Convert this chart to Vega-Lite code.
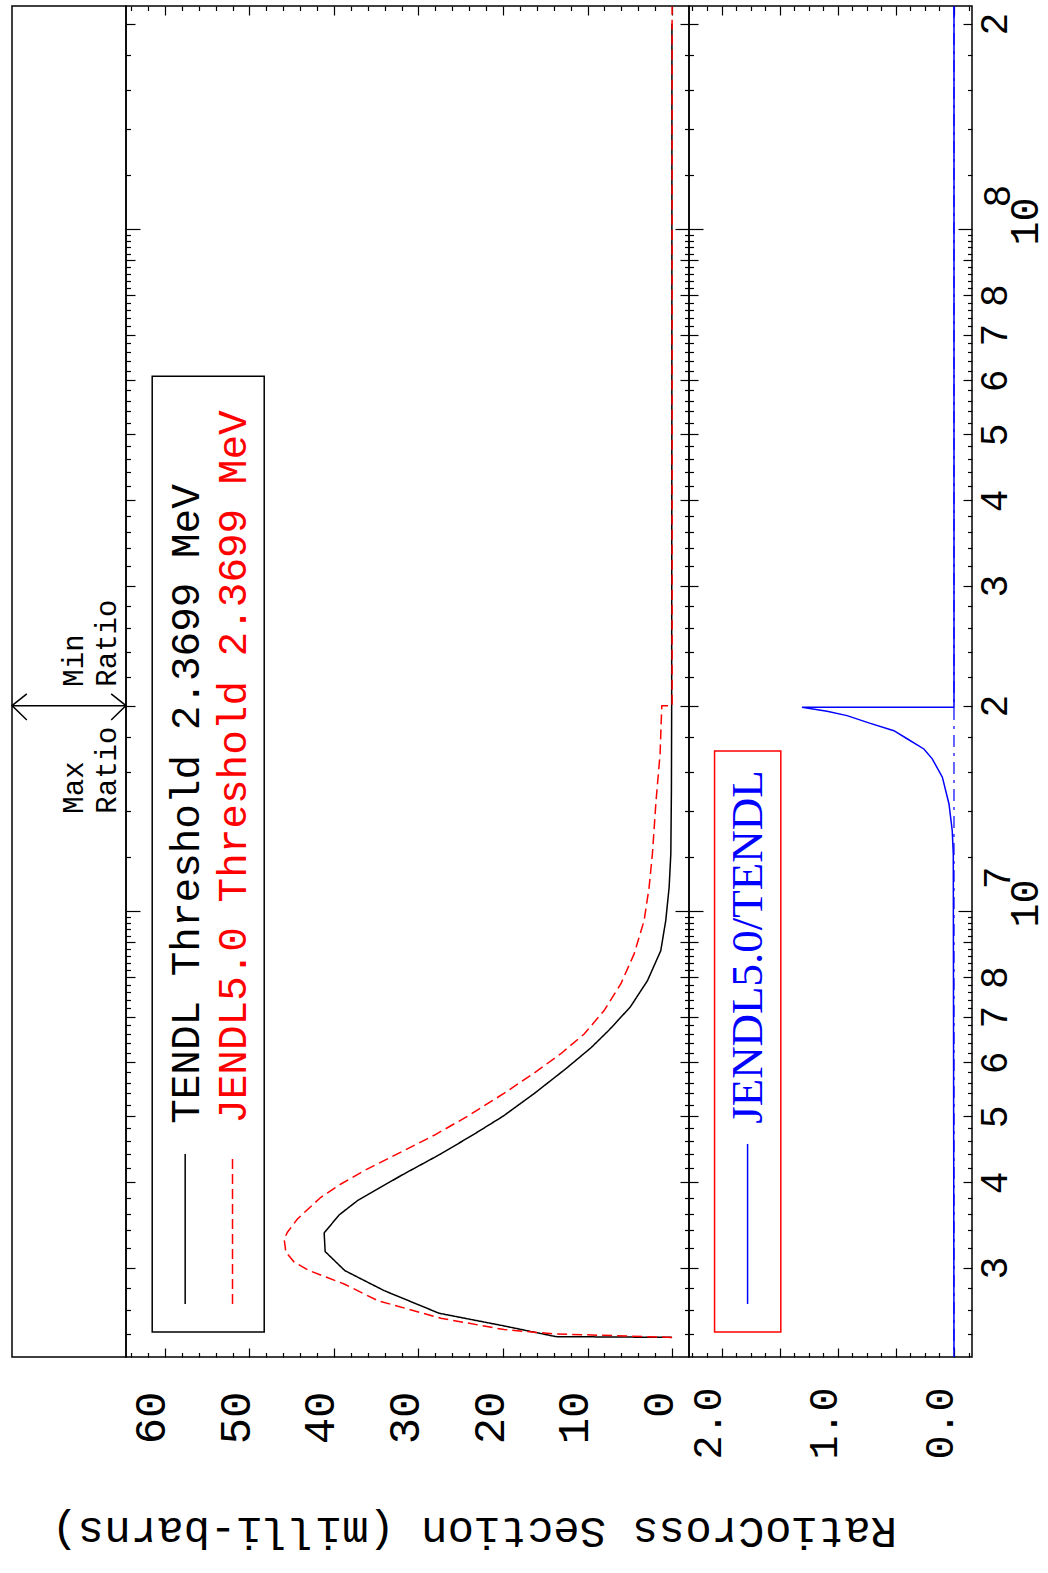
{
  "$schema": "https://vega.github.io/schema/vega-lite/v6.json",
  "background": "white",
  "padding": {"left": 8, "top": 2, "right": 0, "bottom": 0},
  "bounds": "flush",
  "spacing": 0,
  "config": {
    "view": {"stroke": "black", "strokeWidth": 1.5},
    "axis": {"grid": false, "domain": false, "labelFont": "Liberation Mono", "titleFont": "Liberation Mono", "labelColor": "black", "titleColor": "black", "tickColor": "black", "tickWidth": 1.2, "labelOverlap": false, "labelBound": false, "labelFlush": false, "titleFontWeight": "normal"}
  },
  "datasets": {
    "xs": [
      {"s": "TENDL", "i": 1, "E": 2369900, "v": 0},
      {"s": "TENDL", "i": 2, "E": 2376000, "v": 13.75},
      {"s": "TENDL", "i": 3, "E": 2466000, "v": 20.07},
      {"s": "TENDL", "i": 4, "E": 2571000, "v": 27.56},
      {"s": "TENDL", "i": 5, "E": 2775000, "v": 34.06},
      {"s": "TENDL", "i": 6, "E": 2969000, "v": 38.71},
      {"s": "TENDL", "i": 7, "E": 3166000, "v": 41.04},
      {"s": "TENDL", "i": 8, "E": 3372000, "v": 41.16},
      {"s": "TENDL", "i": 9, "E": 3584000, "v": 39.38},
      {"s": "TENDL", "i": 10, "E": 3760000, "v": 37.22},
      {"s": "TENDL", "i": 11, "E": 4091000, "v": 32.09},
      {"s": "TENDL", "i": 12, "E": 4403000, "v": 27.36},
      {"s": "TENDL", "i": 13, "E": 4700000, "v": 23.5},
      {"s": "TENDL", "i": 14, "E": 5000000, "v": 20.0},
      {"s": "TENDL", "i": 15, "E": 5400000, "v": 16.3},
      {"s": "TENDL", "i": 16, "E": 5866000, "v": 12.6},
      {"s": "TENDL", "i": 17, "E": 6300000, "v": 9.6},
      {"s": "TENDL", "i": 18, "E": 6700000, "v": 7.4},
      {"s": "TENDL", "i": 19, "E": 7230000, "v": 4.95},
      {"s": "TENDL", "i": 20, "E": 7900000, "v": 2.92},
      {"s": "TENDL", "i": 21, "E": 8745000, "v": 1.34},
      {"s": "TENDL", "i": 22, "E": 9680000, "v": 0.75},
      {"s": "TENDL", "i": 23, "E": 10830000, "v": 0.35},
      {"s": "TENDL", "i": 24, "E": 12120000, "v": 0.15},
      {"s": "TENDL", "i": 25, "E": 15000000, "v": 0.08},
      {"s": "TENDL", "i": 26, "E": 20000000, "v": 0.05},
      {"s": "TENDL", "i": 27, "E": 50000000, "v": 0.03},
      {"s": "TENDL", "i": 28, "E": 200000000, "v": 0.02},
      {"s": "JENDL5.0", "i": 1, "E": 2369900, "v": 0},
      {"s": "JENDL5.0", "i": 2, "E": 2398000, "v": 13.96},
      {"s": "JENDL5.0", "i": 3, "E": 2433000, "v": 19.87},
      {"s": "JENDL5.0", "i": 4, "E": 2528000, "v": 27.36},
      {"s": "JENDL5.0", "i": 5, "E": 2684000, "v": 34.85},
      {"s": "JENDL5.0", "i": 6, "E": 2838000, "v": 38.79},
      {"s": "JENDL5.0", "i": 7, "E": 2969000, "v": 42.93},
      {"s": "JENDL5.0", "i": 8, "E": 3056000, "v": 44.71},
      {"s": "JENDL5.0", "i": 9, "E": 3160000, "v": 45.69},
      {"s": "JENDL5.0", "i": 10, "E": 3305000, "v": 45.89},
      {"s": "JENDL5.0", "i": 11, "E": 3380000, "v": 45.5},
      {"s": "JENDL5.0", "i": 12, "E": 3535000, "v": 44.32},
      {"s": "JENDL5.0", "i": 13, "E": 3803000, "v": 41.55},
      {"s": "JENDL5.0", "i": 14, "E": 3978000, "v": 39.18},
      {"s": "JENDL5.0", "i": 15, "E": 4160000, "v": 36.43},
      {"s": "JENDL5.0", "i": 16, "E": 4403000, "v": 32.49},
      {"s": "JENDL5.0", "i": 17, "E": 4700000, "v": 28.0},
      {"s": "JENDL5.0", "i": 18, "E": 5000000, "v": 24.2},
      {"s": "JENDL5.0", "i": 19, "E": 5400000, "v": 19.9},
      {"s": "JENDL5.0", "i": 20, "E": 5800000, "v": 16.2},
      {"s": "JENDL5.0", "i": 21, "E": 6170000, "v": 13.2},
      {"s": "JENDL5.0", "i": 22, "E": 6600000, "v": 10.4},
      {"s": "JENDL5.0", "i": 23, "E": 7145000, "v": 8.04},
      {"s": "JENDL5.0", "i": 24, "E": 7815000, "v": 6.07},
      {"s": "JENDL5.0", "i": 25, "E": 8650000, "v": 4.49},
      {"s": "JENDL5.0", "i": 26, "E": 9680000, "v": 3.31},
      {"s": "JENDL5.0", "i": 27, "E": 10830000, "v": 2.72},
      {"s": "JENDL5.0", "i": 28, "E": 12120000, "v": 2.33},
      {"s": "JENDL5.0", "i": 29, "E": 14500000, "v": 1.9},
      {"s": "JENDL5.0", "i": 30, "E": 17000000, "v": 1.42},
      {"s": "JENDL5.0", "i": 31, "E": 20000000, "v": 1.22},
      {"s": "JENDL5.0", "i": 32, "E": 20000000, "v": 0},
      {"s": "JENDL5.0", "i": 33, "E": 212000000, "v": 0}
    ],
    "ratio": [
      {"i": 1, "E": 2220000, "r": 0},
      {"i": 2, "E": 12120000, "r": 0.006},
      {"i": 3, "E": 13110000, "r": 0.015},
      {"i": 4, "E": 14350000, "r": 0.043},
      {"i": 5, "E": 15710000, "r": 0.1},
      {"i": 6, "E": 16710000, "r": 0.187},
      {"i": 7, "E": 17280000, "r": 0.259},
      {"i": 8, "E": 17870000, "r": 0.4},
      {"i": 9, "E": 18380000, "r": 0.517},
      {"i": 10, "E": 18870000, "r": 0.733},
      {"i": 11, "E": 19340000, "r": 0.92},
      {"i": 12, "E": 19630000, "r": 1.092},
      {"i": 13, "E": 19900000, "r": 1.308},
      {"i": 14, "E": 19900000, "r": 0},
      {"i": 15, "E": 212000000, "r": 0}
    ],
    "arrow": [
      {"seg": "shaft", "i": 1, "p": 0, "E": 20000000},
      {"seg": "shaft", "i": 2, "p": 1, "E": 20000000},
      {"seg": "left", "i": 1, "p": 0.13, "E": 20810000},
      {"seg": "left", "i": 2, "p": 0, "E": 20000000},
      {"seg": "left", "i": 3, "p": 0.13, "E": 19060000},
      {"seg": "right", "i": 1, "p": 0.87, "E": 20810000},
      {"seg": "right", "i": 2, "p": 1, "E": 20000000},
      {"seg": "right", "i": 3, "p": 0.87, "E": 19060000}
    ],
    "notes": [
      {"t": "Max|Ratio", "p": 0.42, "E": 20000000, "side": "below"},
      {"t": "Min|Ratio", "p": 0.42, "E": 20000000, "side": "above"}
    ],
    "legB": [
      {"x1": 61.5, "x2": 48.25, "E1": 2413000, "E2": 60800000}
    ],
    "legBlines": [
      {"s": "TENDL", "i": 1, "v": 57.6, "E": 2653000},
      {"s": "TENDL", "i": 2, "v": 57.6, "E": 4403000},
      {"s": "JENDL5.0", "i": 1, "v": 52.0, "E": 2653000},
      {"s": "JENDL5.0", "i": 2, "v": 52.0, "E": 4403000}
    ],
    "legBtext": [
      {"s": "TENDL", "t": "TENDL Threshold 2.3699 MeV", "v": 57.4, "E": 4873000},
      {"s": "JENDL5.0", "t": "JENDL5.0 Threshold 2.3699 MeV", "v": 51.8, "E": 4873000}
    ],
    "legC": [
      {"x1": 2.06, "x2": 1.49, "E1": 2413000, "E2": 17160000}
    ],
    "legClines": [
      {"i": 1, "r": 1.776, "E": 2653000},
      {"i": 2, "r": 1.776, "E": 4554000}
    ],
    "legCtext": [
      {"t": "JENDL5.0/TENDL", "r": 1.776, "E": 4873000}
    ],
    "exps": [
      {"E": 10000000, "t": "7"},
      {"E": 100000000, "t": "8"}
    ]
  },
  "hconcat": [
    {
      "width": 114,
      "height": 1351,
      "layer": [
        {
          "data": {"name": "arrow"},
          "mark": {"type": "line", "color": "black", "strokeWidth": 1.5},
          "encoding": {
            "x": {"field": "p", "type": "quantitative", "scale": {"domain": [0, 1], "nice": false, "zero": false}, "axis": null},
            "y": {"field": "E", "type": "quantitative", "scale": {"type": "log", "domain": [2218000, 212300000], "nice": false, "zero": false}, "axis": null},
            "detail": {"field": "seg"},
            "order": {"field": "i"}
          }
        },
        {
          "data": {"name": "notes"},
          "transform": [{"filter": "datum.side === 'below'"}],
          "mark": {"type": "text", "angle": 270, "align": "left", "baseline": "top", "dx": -108, "lineBreak": "|", "lineHeight": 33, "font": "Liberation Mono", "fontSize": 29, "color": "black"},
          "encoding": {
            "x": {"field": "p", "type": "quantitative", "scale": {"domain": [0, 1], "nice": false, "zero": false}, "axis": null},
            "y": {"field": "E", "type": "quantitative", "scale": {"type": "log", "domain": [2218000, 212300000], "nice": false, "zero": false}, "axis": null},
            "text": {"field": "t"}
          }
        },
        {
          "data": {"name": "notes"},
          "transform": [{"filter": "datum.side === 'above'"}],
          "mark": {"type": "text", "angle": 270, "align": "left", "baseline": "top", "dx": 19, "lineBreak": "|", "lineHeight": 33, "font": "Liberation Mono", "fontSize": 29, "color": "black"},
          "encoding": {
            "x": {"field": "p", "type": "quantitative", "scale": {"domain": [0, 1], "nice": false, "zero": false}, "axis": null},
            "y": {"field": "E", "type": "quantitative", "scale": {"type": "log", "domain": [2218000, 212300000], "nice": false, "zero": false}, "axis": null},
            "text": {"field": "t"}
          }
        }
      ]
    },
    {
      "width": 563,
      "height": 1351,
      "resolve": {"axis": {"x": "independent", "y": "independent"}},
      "layer": [
        {
          "data": {"name": "xs"},
          "mark": {"type": "line", "strokeWidth": 1.5, "orient": "vertical"},
          "encoding": {
            "x": {"field": "v", "type": "quantitative", "scale": {"domain": [-2.0, 64.6], "reverse": true, "nice": false, "zero": false},
              "axis": {"orient": "bottom", "values": [0,2,4,6,8,10,12,14,16,18,20,22,24,26,28,30,32,34,36,38,40,42,44,46,48,50,52,54,56,58,60,62,64],
                "labelExpr": "datum.value % 10 === 0 ? datum.label : ''", "labelAngle": 270, "labelAlign": "right", "labelBaseline": "middle", "labelFontSize": 44, "labelPadding": 43, "labelOffset": -13,
                "tickSize": {"condition": {"test": "datum.value % 10 === 0", "value": -9}, "value": -4.5},
                "title": "Cross Section (milli-barns)", "titleAngle": 180, "titleBaseline": "bottom", "titleFontSize": 44, "titleY": 151}},
            "y": {"field": "E", "type": "quantitative", "scale": {"type": "log", "domain": [2218000, 212300000], "nice": false, "zero": false},
              "axis": {"orient": "left", "labels": false, "title": null, "values": [2400000,2600000,2800000,3000000,3200000,3400000,3600000,3800000,4000000,4200000,4400000,4600000,4800000,5000000,5200000,5400000,5600000,5800000,6000000,6200000,6400000,6600000,6800000,7000000,7200000,7400000,7600000,7800000,8000000,8200000,8400000,8600000,8800000,9000000,9200000,9400000,9600000,9800000,10000000,12000000,14000000,16000000,18000000,20000000,22000000,24000000,26000000,28000000,30000000,32000000,34000000,36000000,38000000,40000000,42000000,44000000,46000000,48000000,50000000,52000000,54000000,56000000,58000000,60000000,62000000,64000000,66000000,68000000,70000000,72000000,74000000,76000000,78000000,80000000,82000000,84000000,86000000,88000000,90000000,92000000,94000000,96000000,98000000,100000000,120000000,140000000,160000000,180000000,200000000],
                "tickSize": {"condition": [{"test": "abs(datum.value/pow(10,floor(log(datum.value)/LN10+1e-9))-1)<1e-6", "value": -14}, {"test": "abs(datum.value/pow(10,floor(log(datum.value)/LN10+1e-9))-round(datum.value/pow(10,floor(log(datum.value)/LN10+1e-9))))<1e-6", "value": -9}], "value": -4.5}}},
            "color": {"field": "s", "type": "nominal", "scale": {"domain": ["TENDL", "JENDL5.0"], "range": ["black", "#ff0000"]}, "legend": null},
            "strokeDash": {"field": "s", "type": "nominal", "scale": {"domain": ["TENDL", "JENDL5.0"], "range": [[1, 0], [10, 5]]}, "legend": null},
            "order": {"field": "i"}
          }
        },
        {
          "data": {"name": "legB"},
          "mark": {"type": "rect", "fill": "white", "fillOpacity": 0, "stroke": "black", "strokeWidth": 1.5},
          "encoding": {
            "x": {"field": "x1", "type": "quantitative", "scale": {"domain": [-2.0, 64.6], "reverse": true, "nice": false, "zero": false},
              "axis": {"orient": "top", "labels": false, "title": null, "values": [0,2,4,6,8,10,12,14,16,18,20,22,24,26,28,30,32,34,36,38,40,42,44,46,48,50,52,54,56,58,60,62,64],
                "tickSize": {"condition": {"test": "datum.value % 10 === 0", "value": -9}, "value": -4.5}}},
            "x2": {"field": "x2"},
            "y": {"field": "E1", "type": "quantitative", "scale": {"type": "log", "domain": [2218000, 212300000], "nice": false, "zero": false},
              "axis": {"orient": "right", "labels": false, "title": null, "values": [2400000,2600000,2800000,3000000,3200000,3400000,3600000,3800000,4000000,4200000,4400000,4600000,4800000,5000000,5200000,5400000,5600000,5800000,6000000,6200000,6400000,6600000,6800000,7000000,7200000,7400000,7600000,7800000,8000000,8200000,8400000,8600000,8800000,9000000,9200000,9400000,9600000,9800000,10000000,12000000,14000000,16000000,18000000,20000000,22000000,24000000,26000000,28000000,30000000,32000000,34000000,36000000,38000000,40000000,42000000,44000000,46000000,48000000,50000000,52000000,54000000,56000000,58000000,60000000,62000000,64000000,66000000,68000000,70000000,72000000,74000000,76000000,78000000,80000000,82000000,84000000,86000000,88000000,90000000,92000000,94000000,96000000,98000000,100000000,120000000,140000000,160000000,180000000,200000000],
                "tickSize": {"condition": [{"test": "abs(datum.value/pow(10,floor(log(datum.value)/LN10+1e-9))-1)<1e-6", "value": -14}, {"test": "abs(datum.value/pow(10,floor(log(datum.value)/LN10+1e-9))-round(datum.value/pow(10,floor(log(datum.value)/LN10+1e-9))))<1e-6", "value": -9}], "value": -4.5}}},
            "y2": {"field": "E2"}
          }
        },
        {
          "data": {"name": "legBlines"},
          "mark": {"type": "line", "strokeWidth": 1.5},
          "encoding": {
            "x": {"field": "v", "type": "quantitative", "scale": {"domain": [-2.0, 64.6], "reverse": true, "nice": false, "zero": false}, "axis": null},
            "y": {"field": "E", "type": "quantitative", "scale": {"type": "log", "domain": [2218000, 212300000], "nice": false, "zero": false}, "axis": null},
            "color": {"field": "s", "type": "nominal", "scale": {"domain": ["TENDL", "JENDL5.0"], "range": ["black", "#ff0000"]}, "legend": null},
            "strokeDash": {"field": "s", "type": "nominal", "scale": {"domain": ["TENDL", "JENDL5.0"], "range": [[1, 0], [10, 5]]}, "legend": null},
            "order": {"field": "i"}
          }
        },
        {
          "data": {"name": "legBtext"},
          "mark": {"type": "text", "angle": 270, "align": "left", "baseline": "middle", "font": "Liberation Mono", "fontSize": 41},
          "encoding": {
            "x": {"field": "v", "type": "quantitative", "scale": {"domain": [-2.0, 64.6], "reverse": true, "nice": false, "zero": false}, "axis": null},
            "y": {"field": "E", "type": "quantitative", "scale": {"type": "log", "domain": [2218000, 212300000], "nice": false, "zero": false}, "axis": null},
            "text": {"field": "t"},
            "color": {"field": "s", "type": "nominal", "scale": {"domain": ["TENDL", "JENDL5.0"], "range": ["black", "#ff0000"]}, "legend": null}
          }
        }
      ]
    },
    {
      "width": 283,
      "height": 1351,
      "resolve": {"axis": {"x": "independent", "y": "independent"}},
      "layer": [
        {
          "data": {"name": "ratio"},
          "mark": {"type": "line", "strokeWidth": 1.5, "color": "#0000ff", "orient": "vertical"},
          "encoding": {
            "x": {"field": "r", "type": "quantitative", "scale": {"domain": [-0.155, 2.28], "reverse": true, "nice": false, "zero": false},
              "axis": {"orient": "bottom", "values": [-0.125,0,0.125,0.25,0.375,0.5,0.625,0.75,0.875,1,1.125,1.25,1.375,1.5,1.625,1.75,1.875,2,2.125,2.25],
                "labelExpr": "abs(datum.value - round(datum.value)) < 1e-6 ? format(datum.value, '.1f') : ''", "labelAngle": 270, "labelAlign": "right", "labelBaseline": "middle", "labelFontSize": 40, "labelPadding": 39, "labelOffset": -13,
                "tickSize": {"condition": {"test": "abs(datum.value*2 - round(datum.value*2)) < 1e-6", "value": -9}, "value": -4.5},
                "title": "Ratio", "titleAngle": 180, "titleBaseline": "bottom", "titleFontSize": 44, "titleY": 151}},
            "y": {"field": "E", "type": "quantitative", "scale": {"type": "log", "domain": [2218000, 212300000], "nice": false, "zero": false},
              "axis": {"orient": "left", "labels": false, "title": null, "values": [2400000,2600000,2800000,3000000,3200000,3400000,3600000,3800000,4000000,4200000,4400000,4600000,4800000,5000000,5200000,5400000,5600000,5800000,6000000,6200000,6400000,6600000,6800000,7000000,7200000,7400000,7600000,7800000,8000000,8200000,8400000,8600000,8800000,9000000,9200000,9400000,9600000,9800000,10000000,12000000,14000000,16000000,18000000,20000000,22000000,24000000,26000000,28000000,30000000,32000000,34000000,36000000,38000000,40000000,42000000,44000000,46000000,48000000,50000000,52000000,54000000,56000000,58000000,60000000,62000000,64000000,66000000,68000000,70000000,72000000,74000000,76000000,78000000,80000000,82000000,84000000,86000000,88000000,90000000,92000000,94000000,96000000,98000000,100000000,120000000,140000000,160000000,180000000,200000000],
                "tickSize": {"condition": [{"test": "abs(datum.value/pow(10,floor(log(datum.value)/LN10+1e-9))-1)<1e-6", "value": -14}, {"test": "abs(datum.value/pow(10,floor(log(datum.value)/LN10+1e-9))-round(datum.value/pow(10,floor(log(datum.value)/LN10+1e-9))))<1e-6", "value": -9}], "value": -4.5}}},
            "order": {"field": "i"}
          }
        },
        {
          "data": {"name": "legC"},
          "mark": {"type": "rect", "fill": "white", "fillOpacity": 0, "stroke": "#ff0000", "strokeWidth": 1.5},
          "encoding": {
            "x": {"field": "x1", "type": "quantitative", "scale": {"domain": [-0.155, 2.28], "reverse": true, "nice": false, "zero": false},
              "axis": {"orient": "top", "labels": false, "title": null, "values": [-0.125,0,0.125,0.25,0.375,0.5,0.625,0.75,0.875,1,1.125,1.25,1.375,1.5,1.625,1.75,1.875,2,2.125,2.25],
                "tickSize": {"condition": {"test": "abs(datum.value*2 - round(datum.value*2)) < 1e-6", "value": -9}, "value": -4.5}}},
            "x2": {"field": "x2"},
            "y": {"field": "E1", "type": "quantitative", "scale": {"type": "log", "domain": [2218000, 212300000], "nice": false, "zero": false},
              "axis": {"orient": "right", "title": null, "values": [2400000,2600000,2800000,3000000,3200000,3400000,3600000,3800000,4000000,4200000,4400000,4600000,4800000,5000000,5200000,5400000,5600000,5800000,6000000,6200000,6400000,6600000,6800000,7000000,7200000,7400000,7600000,7800000,8000000,8200000,8400000,8600000,8800000,9000000,9200000,9400000,9600000,9800000,10000000,12000000,14000000,16000000,18000000,20000000,22000000,24000000,26000000,28000000,30000000,32000000,34000000,36000000,38000000,40000000,42000000,44000000,46000000,48000000,50000000,52000000,54000000,56000000,58000000,60000000,62000000,64000000,66000000,68000000,70000000,72000000,74000000,76000000,78000000,80000000,82000000,84000000,86000000,88000000,90000000,92000000,94000000,96000000,98000000,100000000,120000000,140000000,160000000,180000000,200000000],
                "labelExpr": "abs(datum.value/pow(10,floor(log(datum.value)/LN10+1e-9))-1)<1e-6 ? '10' : ((abs(datum.value/pow(10,floor(log(datum.value)/LN10+1e-9))-round(datum.value/pow(10,floor(log(datum.value)/LN10+1e-9))))<1e-6 && round(datum.value/pow(10,floor(log(datum.value)/LN10+1e-9))) <= 8) ? '' + round(datum.value/pow(10,floor(log(datum.value)/LN10+1e-9))) : '')",
                "labelAngle": 270, "labelAlign": "center", "labelBaseline": "top",
                "labelFontSize": {"condition": {"test": "abs(datum.value/pow(10,floor(log(datum.value)/LN10+1e-9))-1)<1e-6", "value": 40}, "value": 38},
                "labelPadding": {"condition": {"test": "abs(datum.value/pow(10,floor(log(datum.value)/LN10+1e-9))-1)<1e-6", "value": 47}, "value": 13},
                "labelOffset": {"condition": {"test": "abs(datum.value/pow(10,floor(log(datum.value)/LN10+1e-9))-1)<1e-6", "value": -8}, "value": 0},
                "tickSize": {"condition": [{"test": "abs(datum.value/pow(10,floor(log(datum.value)/LN10+1e-9))-1)<1e-6", "value": -14}, {"test": "abs(datum.value/pow(10,floor(log(datum.value)/LN10+1e-9))-round(datum.value/pow(10,floor(log(datum.value)/LN10+1e-9))))<1e-6", "value": -9}], "value": -4.5}}},
            "y2": {"field": "E2"}
          }
        },
        {
          "data": {"values": [{"r": 0}]},
          "mark": {"type": "rule", "color": "#0000ff", "strokeWidth": 1.2, "strokeDash": [12, 6, 3, 6]},
          "encoding": {
            "x": {"field": "r", "type": "quantitative", "scale": {"domain": [-0.155, 2.28], "reverse": true, "nice": false, "zero": false}, "axis": null}
          }
        },
        {
          "data": {"name": "legClines"},
          "mark": {"type": "line", "strokeWidth": 1.5, "color": "#0000ff"},
          "encoding": {
            "x": {"field": "r", "type": "quantitative", "scale": {"domain": [-0.155, 2.28], "reverse": true, "nice": false, "zero": false}, "axis": null},
            "y": {"field": "E", "type": "quantitative", "scale": {"type": "log", "domain": [2218000, 212300000], "nice": false, "zero": false}, "axis": null},
            "order": {"field": "i"}
          }
        },
        {
          "data": {"name": "legCtext"},
          "mark": {"type": "text", "angle": 270, "align": "left", "baseline": "middle", "font": "Liberation Serif", "fontSize": 45, "color": "#0000ff"},
          "encoding": {
            "x": {"field": "r", "type": "quantitative", "scale": {"domain": [-0.155, 2.28], "reverse": true, "nice": false, "zero": false}, "axis": null},
            "y": {"field": "E", "type": "quantitative", "scale": {"type": "log", "domain": [2218000, 212300000], "nice": false, "zero": false}, "axis": null},
            "text": {"field": "t"}
          }
        },
        {
          "data": {"name": "exps"},
          "mark": {"type": "text", "angle": 270, "align": "center", "baseline": "middle", "dx": 33, "font": "Liberation Mono", "fontSize": 38, "color": "black", "clip": false},
          "encoding": {
            "x": {"datum": -0.388, "type": "quantitative", "scale": {"domain": [-0.155, 2.28], "reverse": true, "nice": false, "zero": false}, "axis": null},
            "y": {"field": "E", "type": "quantitative", "scale": {"type": "log", "domain": [2218000, 212300000], "nice": false, "zero": false}, "axis": null},
            "text": {"field": "t"}
          }
        }
      ]
    }
  ]
}
